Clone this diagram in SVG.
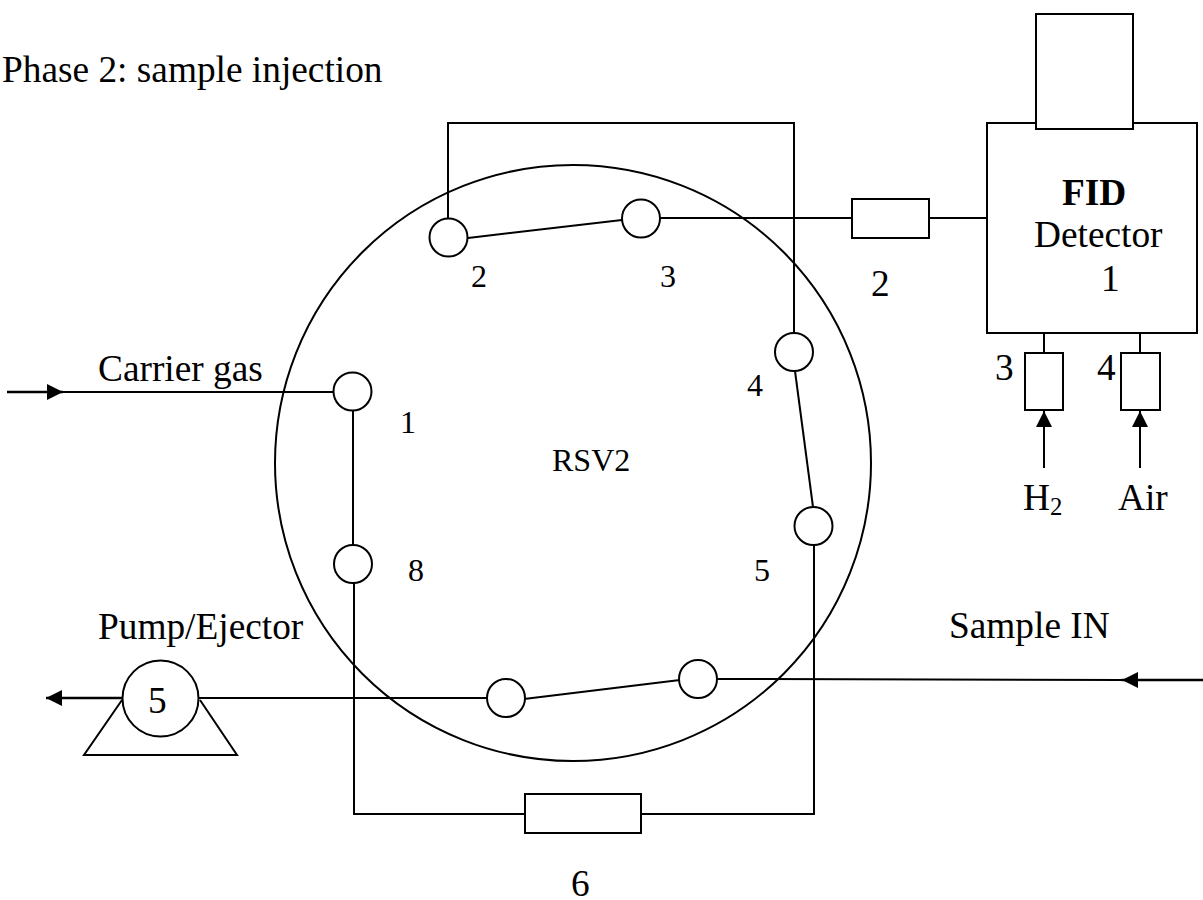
<svg xmlns="http://www.w3.org/2000/svg" width="1203" height="900" viewBox="0 0 1203 900">
<style>
.l{fill:none;stroke:#000;stroke-width:2}
.n{fill:#fff;stroke:#000;stroke-width:2}
text{font-family:"Liberation Serif","Times New Roman",serif;fill:#000}
.b{font-size:37.33px}
.s{font-size:32px}
</style>
<defs>
<marker id="a" markerUnits="userSpaceOnUse" markerWidth="16" markerHeight="16" refX="16" refY="8" orient="auto"><path d="M0 0L16 8L0 16Z" fill="#000"/></marker>
</defs>
<rect width="1203" height="900" fill="#fff"/>
<text x="2" y="82" class="b">Phase 2: sample injection</text>
<g id="valve"><circle class="l" cx="573" cy="463" r="298"/></g>
<g id="connectors">
<path class="l" d="M448 218V123H794V333"/>
<path class="l" d="M468 238L622 220"/>
<path class="l" d="M660 218H852"/>
<path class="l" d="M930 218H987"/>
<path class="l" d="M795 371L813 507"/>
<path class="l" d="M814 545V814H641"/>
<path class="l" d="M525 814H354V583"/>
<path class="l" d="M353 411V545"/>
<path class="l" d="M63 392H333"/>
<path class="l" d="M7 392H63" marker-end="url(#a)" style="stroke-width:2.5"/>
<path class="l" d="M199 698H487"/>
<path class="l" d="M524 699L680 680"/>
<path class="l" d="M717 679L1122 680"/>
<path class="l" d="M1203 680H1122" marker-end="url(#a)" style="stroke-width:2.5"/>
<path class="l" d="M122 698H46" marker-end="url(#a)" style="stroke-width:2.5"/>
<path class="l" d="M1044 333V353"/>
<path class="l" d="M1140 333V353"/>
<path class="l" d="M1044 468V411" marker-end="url(#a)"/>
<path class="l" d="M1140 468V411" marker-end="url(#a)"/>
</g>
<g id="port1"><circle class="n" cx="352.500" cy="391.500" r="19"/><text x="400" y="433" class="s">1</text></g>
<g id="port2"><circle class="n" cx="448.500" cy="237.500" r="19"/><text x="471" y="287" class="s">2</text></g>
<g id="port3"><circle class="n" cx="641" cy="218.500" r="19"/><text x="660" y="287" class="s">3</text></g>
<g id="port4"><circle class="n" cx="794" cy="352" r="19"/><text x="747" y="396" class="s">4</text></g>
<g id="port5"><circle class="n" cx="813.500" cy="526" r="19"/><text x="754" y="581" class="s">5</text></g>
<g id="port6"><circle class="n" cx="698" cy="679" r="19"/></g>
<g id="port7"><circle class="n" cx="506" cy="698" r="19"/></g>
<g id="port8"><circle class="n" cx="353" cy="564" r="19"/><text x="408" y="581" class="s">8</text></g>
<g id="rsv"><text x="552" y="471" class="s">RSV2</text></g>
<g id="carrier"><text x="98" y="381" class="b">Carrier gas</text></g>
<g id="column2"><rect class="n" x="852" y="199" width="77" height="39"/><text x="871" y="296" class="b">2</text></g>
<g id="detector"><rect class="n" x="987" y="123" width="210" height="210"/><rect class="n" x="1036" y="14" width="97" height="115"/>
<text x="1062" y="205" class="b" style="font-weight:bold">FID</text><text x="1034" y="247" class="b">Detector</text><text x="1101" y="291" class="b">1</text></g>
<g id="r3"><rect class="n" x="1025" y="353" width="38" height="57"/><text x="995" y="380" class="b">3</text></g>
<g id="r4"><rect class="n" x="1121" y="353" width="39" height="57"/><text x="1097" y="380" class="b">4</text></g>
<g id="h2"><text x="1023" y="510" class="b">H<tspan font-size="24.800" dy="5">2</tspan></text></g>
<g id="air"><text x="1118" y="510" class="b">Air</text></g>
<g id="pump"><path class="n" d="M122 700L84 755H237L200 700"/><circle class="n" cx="160.500" cy="698.500" r="38"/><text x="148" y="713" class="b">5</text><text x="98" y="639" class="b">Pump/Ejector</text></g>
<g id="sample"><text x="949" y="638" class="b">Sample IN</text></g>
<g id="loop"><rect class="n" x="525" y="794" width="116" height="39"/><text x="571" y="896" class="b">6</text></g>
</svg>
